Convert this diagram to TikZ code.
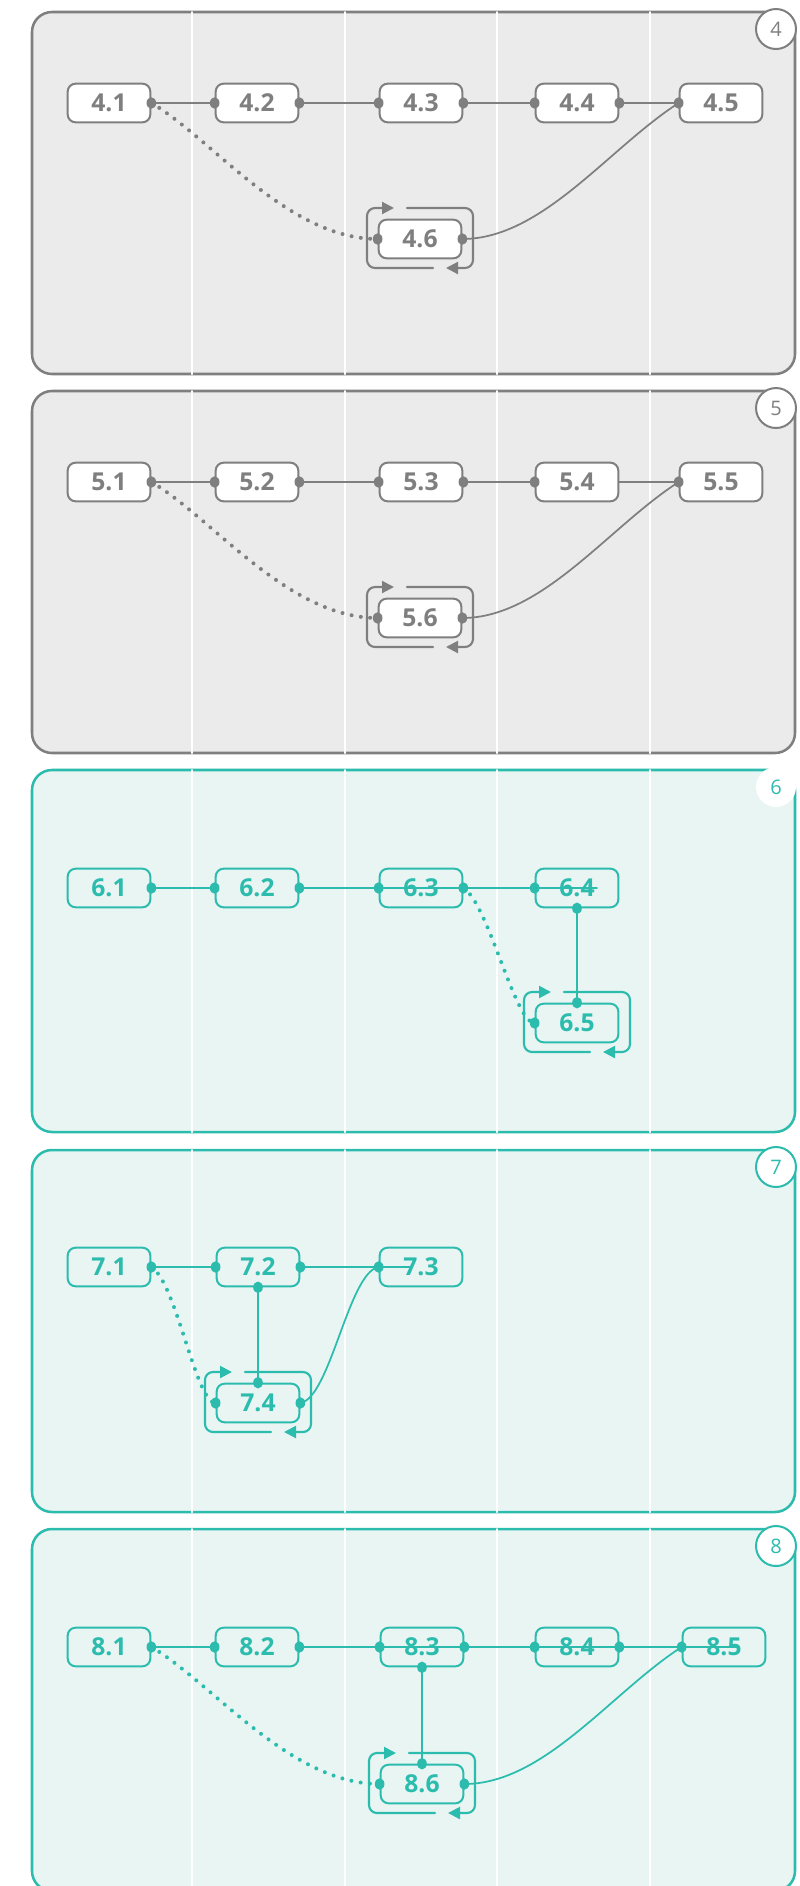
\documentclass[tikz,border=0pt]{standalone}
\usepackage{fontspec}
\setmainfont{Open Sans}
\usetikzlibrary{arrows.meta}
\definecolor{gcol}{HTML}{7F7F7F}
\definecolor{gfill}{HTML}{EBEBEB}
\definecolor{tcol}{HTML}{2CBCAE}
\definecolor{tfill}{HTML}{E8F5F3}
\begin{document}
\begin{tikzpicture}[x=0.75pt, y=-0.75pt, line join=round, line cap=round,
	box/.style={draw, line width=1.5pt, rounded corners=6pt, minimum width=62pt, minimum height=29pt, inner sep=0pt, font=\bfseries\fontsize{18.5}{18.5}\selectfont},
	gbox/.style={box, gcol, fill=white},
	tbox/.style={box, tcol},
	badge/.style={circle, line width=1.5pt, fill=white, minimum size=30pt, inner sep=0pt, font=\fontsize{15}{15}\selectfont},
	link/.style={line width=1.3pt},
	dotline/.style={line width=3pt, dash pattern=on 0pt off 7pt},
	cycline/.style={line width=1.6pt, rounded corners=6pt, -{Triangle[length=9pt,width=9pt]}},
	colline/.style={white, line width=1.5pt}]
	\def\cyc#1#2{\begin{scope}[shift={(#1.center)}, #2]
		\draw[cycline] (13,29) -- (-53,29) -- (-53,-31) -- (-26,-31);
		\draw[cycline] (-13,-31) -- (53,-31) -- (53,29) -- (26,29);
	\end{scope}}
	\def\dotsat#1#2{\foreach \p in {#2} \fill[#1] (\p) ellipse [x radius=3.6pt, y radius=4.3pt];}
	\useasboundingbox (0,0) rectangle (800,1886);
	\clip (0,0) rectangle (800,1886);
	\foreach \t/\c/\f in {12/gcol/gfill, 391/gcol/gfill, 770/tcol/tfill, 1150/tcol/tfill, 1529/tcol/tfill}{
		\draw[\c, fill=\f, line width=1.9pt, rounded corners=15pt] (32,\t) rectangle (795,\t+362);
		\foreach \x in {192,345,497,650} \draw[colline] (\x,\t) -- (\x,\t+362);
	}
	% panel 4
	\node[badge, draw=gcol, text=gcol] (b4) at (776,29) {4};
	\node[gbox] (n41) at (109,103) {4.1};
	\node[gbox] (n42) at (257,103) {4.2};
	\node[gbox] (n43) at (421,103) {4.3};
	\node[gbox] (n44) at (577,103) {4.4};
	\node[gbox] (n45) at (721,103) {4.5};
	\node[gbox] (n46) at (420,239) {4.6};
	\draw[gcol, link] (n41.east) -- (n42.west) (n42.east) -- (n43.west) (n43.east) -- (n44.west) (n44.east) -- (n45.west);
	\draw[gcol, dotline] (n41.east) .. controls +(60,35) and +(-90,0) .. (n46.west);
	\draw[gcol, link] (n46.east) .. controls +(80,0) and +(-70,45) .. (n45.west);
	\dotsat{gcol}{n41.east, n42.west, n42.east, n43.west, n43.east, n44.west, n44.east, n45.west, n46.west, n46.east}
	\cyc{n46}{gcol}
	% panel 5
	\node[badge, draw=gcol, text=gcol] (b5) at (776,408) {5};
	\node[gbox] (n51) at (109,482) {5.1};
	\node[gbox] (n52) at (257,482) {5.2};
	\node[gbox] (n53) at (421,482) {5.3};
	\node[gbox] (n54) at (577,482) {5.4};
	\node[gbox] (n55) at (721,482) {5.5};
	\node[gbox] (n56) at (420,618) {5.6};
	\draw[gcol, link] (n51.east) -- (n52.west) (n52.east) -- (n53.west) (n53.east) -- (n54.west) (n54.east) -- (n55.west);
	\draw[gcol, dotline] (n51.east) .. controls +(60,35) and +(-90,0) .. (n56.west);
	\draw[gcol, link] (n56.east) .. controls +(80,0) and +(-70,45) .. (n55.west);
	\dotsat{gcol}{n51.east, n52.west, n52.east, n53.west, n53.east, n54.west, n55.west, n56.west, n56.east}
	\cyc{n56}{gcol}
	% panel 6
	\node[badge, text=tcol] (b6) at (776,787) {6};
	\node[tbox] (n61) at (109,888) {6.1};
	\node[tbox] (n62) at (257,888) {6.2};
	\node[tbox] (n63) at (421,888) {6.3};
	\node[tbox] (n64) at (577,888) {6.4};
	\node[tbox] (n65) at (577,1023) {6.5};
	\coordinate (s64) at (597,888);
	\draw[tcol, link] (n61.east) -- (n62.west) (n62.east) -- (n63.west) -- (n63.east) -- (n64.west) -- (s64);
	\draw[tcol, link] (n64.south) -- (n65.north);
	\draw[tcol, dotline] (n63.east) .. controls +(25,15) and +(-20,0) .. (n65.west);
	\dotsat{tcol}{n61.east, n62.west, n62.east, n63.west, n63.east, n64.west, n64.south, n65.north, n65.west}
	\cyc{n65}{tcol}
	% panel 7
	\node[badge, draw=tcol, text=tcol] (b7) at (776,1167) {7};
	\node[tbox] (n71) at (109,1267) {7.1};
	\node[tbox] (n72) at (258,1267) {7.2};
	\node[tbox] (n73) at (421,1267) {7.3};
	\node[tbox] (n74) at (258,1403) {7.4};
	\coordinate (s73) at (410,1267);
	\draw[tcol, link] (n71.east) -- (n72.west) (n72.east) -- (n73.west) -- (s73);
	\draw[tcol, link] (n72.south) -- (n74.north);
	\draw[tcol, dotline] (n71.east) .. controls +(25,15) and +(-20,0) .. (n74.west);
	\draw[tcol, link] (n74.east) .. controls +(30,-5) and +(-30,5) .. (n73.west);
	\dotsat{tcol}{n71.east, n72.west, n72.east, n72.south, n73.west, n74.north, n74.west, n74.east}
	\cyc{n74}{tcol}
	% panel 8
	\node[badge, draw=tcol, text=tcol] (b8) at (776,1546) {8};
	\node[tbox] (n81) at (109,1647) {8.1};
	\node[tbox] (n82) at (257,1647) {8.2};
	\node[tbox] (n83) at (422,1647) {8.3};
	\node[tbox] (n84) at (577,1647) {8.4};
	\node[tbox] (n85) at (724,1647) {8.5};
	\node[tbox] (n86) at (422,1784) {8.6};
	\coordinate (s85) at (739,1647);
	\draw[tcol, link] (n81.east) -- (n82.west) (n82.east) -- (n83.west) -- (n83.east) -- (n84.west) -- (n84.east) -- (n85.west) -- (s85);
	\draw[tcol, link] (n83.south) -- (n86.north);
	\draw[tcol, dotline] (n81.east) .. controls +(60,35) and +(-90,0) .. (n86.west);
	\draw[tcol, link] (n86.east) .. controls +(80,0) and +(-70,45) .. (n85.west);
	\dotsat{tcol}{n81.east, n82.west, n82.east, n83.west, n83.east, n83.south, n84.west, n84.east, n85.west, n86.north, n86.west, n86.east}
	\cyc{n86}{tcol}
\end{tikzpicture}
\end{document}
